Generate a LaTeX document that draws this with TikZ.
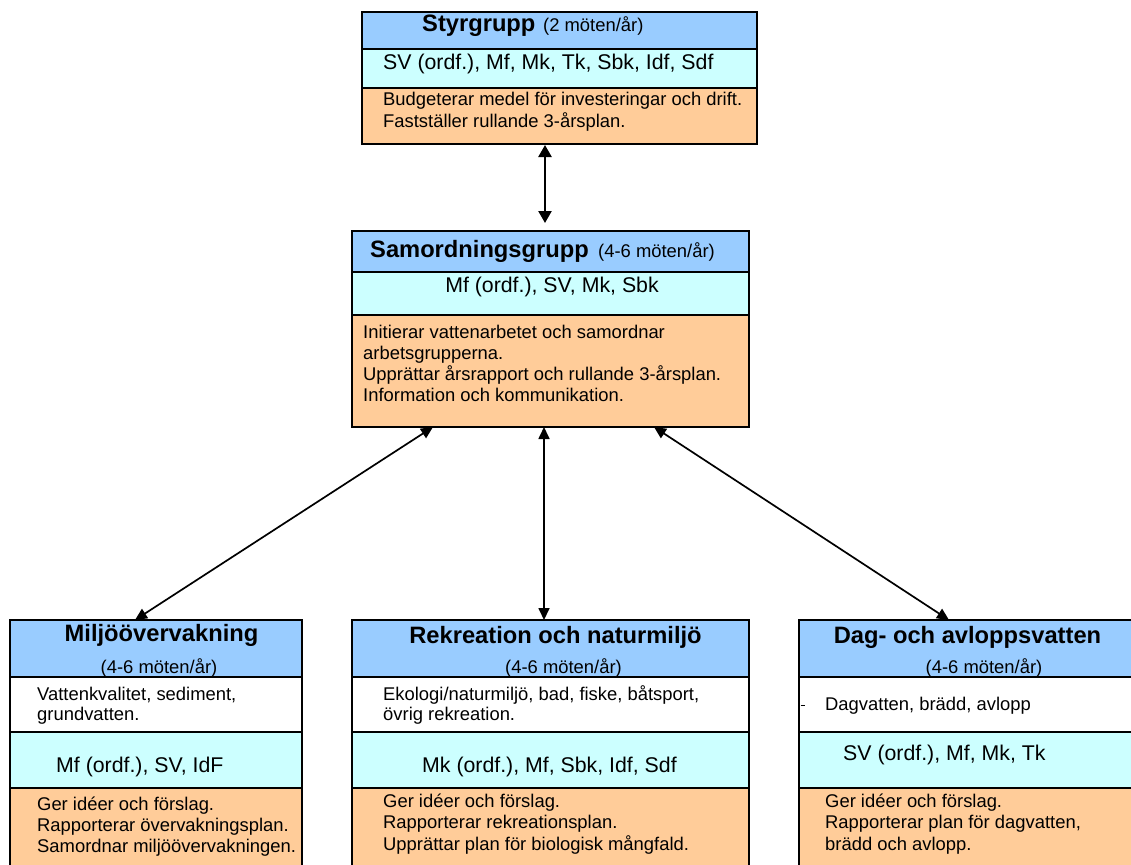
\documentclass[tikz,border=0pt]{standalone}
\usepackage{fontspec}
\setmainfont{Liberation Sans}
\usetikzlibrary{arrows.meta}
\definecolor{hdr}{RGB}{153,204,255}
\definecolor{cyn}{RGB}{204,255,255}
\definecolor{org}{RGB}{255,204,153}
\begin{document}
\begin{tikzpicture}[x=1pt,y=-1pt,
  sec/.style={draw=black, line width=1.8pt, anchor=north west, inner sep=0pt, outer sep=0pt},
  ttl/.style={font=\bfseries\fontsize{23.7}{28}\selectfont, inner sep=0pt, anchor=base},
  sml/.style={font=\fontsize{18.4}{22}\selectfont, inner sep=0pt, anchor=base},
  mem/.style={font=\fontsize{21.3}{25}\selectfont, inner sep=0pt, anchor=base west},
  txt/.style={font=\fontsize{18.4}{22}\selectfont, inner sep=0pt, anchor=base west},
  link/.style={line width=1.7pt, {Triangle[length=12pt,width=11pt]}-{Triangle[length=12pt,width=11pt]}},
  linkb/.style={line width=2.4pt, {Triangle[length=12pt,width=13pt]}-{Triangle[length=12pt,width=13pt]}},
]
\useasboundingbox (0,0) rectangle (1131,864);
\fill[white] (0,0) rectangle (1131,864);

% ---------- Styrgrupp ----------
\node[sec, fill=hdr, minimum width=395pt, minimum height=37pt] (styH) at (362,12) {};
\node[sec, fill=cyn, minimum width=395pt, minimum height=39pt] (styM) at (362,49) {};
\node[sec, fill=org, minimum width=395pt, minimum height=56pt] (styB) at (362,88) {};
\node[ttl, anchor=base west] (styT) at (422,32) {Styrgrupp};
\node[sml, anchor=base west] (styS) at (543,32) {(2 möten/år)};
\node[mem] (styMt) at (383,70) {SV (ordf.), Mf, Mk, Tk, Sbk, Idf, Sdf};
\node[txt] (styB1) at (383,106) {Budgeterar medel för investeringar och drift.};
\node[txt] (styB2) at (383,128) {Fastställer rullande 3-årsplan.};

% ---------- Samordningsgrupp ----------
\node[sec, fill=hdr, minimum width=397pt, minimum height=41pt] (samH) at (352,231) {};
\node[sec, fill=cyn, minimum width=397pt, minimum height=43pt] (samM) at (352,272) {};
\node[sec, fill=org, minimum width=397pt, minimum height=112pt] (samB) at (352,315) {};
\node[ttl, anchor=base west] (samT) at (370,257) {Samordningsgrupp};
\node[sml, anchor=base west] (samS) at (598,257) {(4-6 möten/år)};
\node[mem, anchor=base] (samMt) at (552,292) {Mf (ordf.), SV, Mk, Sbk};
\node[txt] (samB1) at (363,338) {Initierar vattenarbetet och samordnar};
\node[txt] (samB2) at (363,359) {arbetsgrupperna.};
\node[txt] (samB3) at (363,380) {Upprättar årsrapport och rullande 3-årsplan.};
\node[txt] (samB4) at (363,401) {Information och kommunikation.};

% ---------- Miljöövervakning ----------
\node[sec, fill=hdr, minimum width=292pt, minimum height=57pt] (milH) at (10,620) {};
\node[sec, fill=white, minimum width=292pt, minimum height=55pt] (milW) at (10,677) {};
\node[sec, fill=cyn, minimum width=292pt, minimum height=56pt] (milM) at (10,732) {};
\node[sec, fill=org, minimum width=292pt, minimum height=100pt] (milB) at (10,788) {};
\node[ttl] (milT) at (161.5,641) {Miljöövervakning};
\node[sml] (milS) at (159,673) {(4-6 möten/år)};
\node[txt] (milW1) at (37,700) {Vattenkvalitet, sediment,};
\node[txt] (milW2) at (37,720) {grundvatten.};
\node[mem] (milMt) at (56,772) {Mf (ordf.), SV, IdF};
\node[txt] (milB1) at (37,810) {Ger idéer och förslag.};
\node[txt] (milB2) at (37,831) {Rapporterar övervakningsplan.};
\node[txt] (milB3) at (37,852) {Samordnar miljöövervakningen.};

% ---------- Rekreation och naturmiljö ----------
\node[sec, fill=hdr, minimum width=397pt, minimum height=57pt] (rekH) at (352,620) {};
\node[sec, fill=white, minimum width=397pt, minimum height=55pt] (rekW) at (352,677) {};
\node[sec, fill=cyn, minimum width=397pt, minimum height=56pt] (rekM) at (352,732) {};
\node[sec, fill=org, minimum width=397pt, minimum height=100pt] (rekB) at (352,788) {};
\node[ttl] (rekT) at (555.5,643) {Rekreation och naturmiljö};
\node[sml] (rekS) at (563.5,673) {(4-6 möten/år)};
\node[txt] (rekW1) at (383,700) {Ekologi/naturmiljö, bad, fiske, båtsport,};
\node[txt] (rekW2) at (383,720) {övrig rekreation.};
\node[mem] (rekMt) at (422,772) {Mk (ordf.), Mf, Sbk, Idf, Sdf};
\node[txt] (rekB1) at (383,807) {Ger idéer och förslag.};
\node[txt] (rekB2) at (383,828) {Rapporterar rekreationsplan.};
\node[txt] (rekB3) at (383,850) {Upprättar plan för biologisk mångfald.};

% ---------- Dag- och avloppsvatten ----------
\node[sec, fill=hdr, minimum width=345pt, minimum height=57pt] (dagH) at (799,620) {};
\node[sec, fill=white, minimum width=345pt, minimum height=55pt] (dagW) at (799,677) {};
\node[sec, fill=cyn, minimum width=345pt, minimum height=56pt] (dagM) at (799,732) {};
\node[sec, fill=org, minimum width=345pt, minimum height=100pt] (dagB) at (799,788) {};
\node[ttl] (dagT) at (967.5,643) {Dag- och avloppsvatten};
\node[sml] (dagS) at (984,673) {(4-6 möten/år)};
\draw[line width=1pt] (800.5,705) -- (805,705);
\node[txt] (dagW1) at (825,710) {Dagvatten, brädd, avlopp};
\node[mem] (dagMt) at (843,760) {SV (ordf.), Mf, Mk, Tk};
\node[txt] (dagB1) at (825,807) {Ger idéer och förslag.};
\node[txt] (dagB2) at (825,828) {Rapporterar plan för dagvatten,};
\node[txt] (dagB3) at (825,850) {brädd och avlopp.};

% ---------- connectors ----------
\coordinate (xt) at (545,0);
\coordinate (xl1) at (433,0);
\coordinate (xl2) at (135,0);
\coordinate (xc) at (544,0);
\coordinate (xr1) at (654,0);
\coordinate (xr2) at (949,0);
\draw[linkb, shorten <=1pt, shorten >=8pt] (styB.south -| xt) -- (samH.north -| xt);
\draw[link] (samB.south -| xl1) -- (milH.north -| xl2);
\draw[link] (samB.south -| xc) -- (rekH.north -| xc);
\draw[link] (samB.south -| xr1) -- (dagH.north -| xr2);
\end{tikzpicture}
\end{document}
